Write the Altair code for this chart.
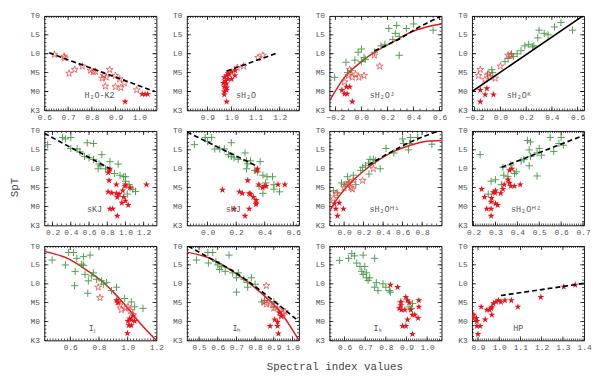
import math
import altair as alt
import pandas as pd

FONT = "Liberation Mono"

# ---------------- spectral type axis ----------------
Y_TICKS = [-5, 0, 5, 10, 15, 20]
Y_NAMES = ["K3", "M0", "M5", "L0", "L5", "T0"]

# ---------------- panel data (x = index value, y = SpT number) ----------------
# 1: H2O-K2
AST1 = [(0.642, 9.8), (0.683, 9.3), (0.686, 8.9), (0.704, 4.8), (0.728, 5.8), (0.76, 6.7),
        (0.794, 5.6), (0.806, 5.2), (0.815, 5.3), (0.843, 3.5), (0.85, 4.3), (0.861, 3.75),
        (0.857, 1.4), (0.875, 5.8), (0.899, 4.2), (0.899, 1.25), (0.917, 3.3), (0.922, 1.0),
        (0.937, 2.25), (0.989, 0.4)]
STAR1 = [(1.012, -0.7), (1.024, -0.7), (1.035, -0.7), (0.94, -2.7)]
DASH1 = [(0.62, 10.25), (1.065, 0.0)]

# 2: sH2O
AST2 = [(1.11, 9.0), (1.13, 9.6), (1.05, 6.7), (1.024, 6.3)]
STAR2 = [(1.015, 5.6), (1.0, 5.25), (0.986, 4.8), (0.979, 4.2), (0.97, 3.75), (0.986, 3.3),
         (1.0, 3.3), (1.014, 4.2), (0.966, 2.25), (0.979, 2.1), (0.97, 1.25), (0.98, 1.0),
         (0.97, 0.0), (0.979, 0.4), (0.97, -0.8), (0.98, -2.7), (0.99, 4.5), (0.975, 2.8)]
DASH2 = [(0.979, 5.4), (1.19, 10.2)]

# 3: sH2O^J
GREEN3 = [(-0.205, 3.75), (-0.118, 7.75), (-0.106, 5.0), (-0.08, 5.5), (-0.05, 8.3), (-0.025, 10.4),
          (0.0, 11.25), (0.0, 7.9), (0.02, 9.0), (0.03, 8.5), (0.1, 10.4), (0.15, 12.1), (0.21, 16.7),
          (0.26, 15.4), (0.27, 17.5), (0.29, 14.6), (0.29, 9.6), (0.345, 16.7), (0.40, 17.9),
          (0.55, 16.25), (0.18, 12.5), (0.24, 13.8)]
AST3 = [(-0.13, 2.5), (-0.1, 4.2), (-0.07, 3.75), (-0.045, 4.6), (0.02, 4.2), (0.1, 9.6),
        (0.14, 6.7), (-0.09, 5.8), (-0.02, 3.75)]
STAR3 = [(-0.15, 0.4), (-0.115, 1.25), (-0.09, 1.25), (-0.13, -0.6), (-0.11, -0.6), (-0.07, -2.7)]
CURVE3 = [(-0.245, -2.5), (-0.13, 3.75), (0.0, 7.9), (0.12, 10.8), (0.25, 13.3), (0.37, 15.6),
          (0.5, 17.1), (0.615, 17.9)]
DASH3 = [(0.1, 10.8), (0.3, 14.1), (0.45, 17.2), (0.615, 20.0)]

# 4: sH2O^K
GREEN4 = [(-0.067, 5.8), (-0.06, 5.0), (-0.1, 4.6), (0.036, 7.9), (0.06, 8.75), (0.087, 10.0),
          (0.1, 9.3), (0.16, 10.8), (0.19, 12.1), (0.22, 12.5), (0.25, 11.8), (0.29, 14.2),
          (0.3, 16.25), (0.34, 15.4), (0.37, 15.0), (0.42, 17.1), (0.47, 18.3), (0.56, 16.25),
          (0.26, 12.1), (0.13, 10.0)]
AST4 = [(-0.156, 5.8), (-0.17, 4.2), (-0.09, 4.6), (-0.08, 3.8), (-0.04, 3.5), (0.0, 6.7),
        (0.06, 9.6), (0.08, 9.6), (-0.12, 3.2)]
STAR4 = [(-0.156, 0.4), (-0.105, 0.8), (-0.118, -0.8), (-0.054, -0.8), (-0.156, -2.7)]
SOLID4 = [(-0.22, 0.0), (0.65, 20.25)]

# 5: sKJ
GREEN5 = [(0.146, 16.4), (0.31, 18.3), (0.34, 17.9), (0.4, 18.3), (0.4, 15.4), (0.47, 15.25),
          (0.58, 16.9), (0.65, 16.7), (0.55, 13.3), (0.6, 12.9), (0.74, 13.75), (0.71, 11.25),
          (0.73, 10.8), (0.7, 10.0), (0.78, 10.0), (0.83, 11.9), (0.92, 11.25), (0.88, 8.75),
          (0.94, 8.3), (0.98, 7.9), (1.0, 7.9), (1.0, 6.7), (1.04, 5.8), (1.05, 5.0), (1.08, 4.6),
          (1.11, 4.0), (1.02, 3.3), (0.5, 14.5), (0.65, 12.5)]
STAR5 = [(0.83, 10.0), (0.82, 9.5), (0.81, 9.0), (0.82, 6.9), (0.9, 5.8), (0.81, 3.9), (0.85, 3.6),
         (0.9, 3.5), (0.93, 3.3), (0.91, 2.5), (0.98, 2.5), (0.96, 1.0), (1.0, 1.5), (1.03, 0.4),
         (1.0, 5.8), (0.995, 5.4), (1.05, 5.0), (0.97, 4.2), (0.83, -0.6), (0.86, -0.6),
         (0.91, -2.5), (1.23, 5.8)]
DASH5 = [(0.11, 19.4), (0.83, 10.0)]

# 6: sHJ
GREEN6 = [(-0.093, 16.4), (-0.017, 18.3), (0.028, 18.3), (0.0, 17.2), (0.05, 15.25), (0.085, 15.25),
          (0.117, 15.25), (0.166, 16.9), (0.146, 13.75), (0.166, 13.3), (0.185, 12.9), (0.214, 12.5),
          (0.262, 14.2), (0.272, 12.1), (0.28, 11.3), (0.3, 12.1), (0.368, 11.9), (0.272, 10.0),
          (0.33, 9.6), (0.349, 9.2), (0.387, 8.3), (0.416, 7.9), (0.454, 7.9), (0.406, 6.25),
          (0.464, 5.8), (0.464, 4.6), (0.387, 3.5), (0.503, 3.9), (0.36, 5.4)]
STAR6 = [(0.349, 10.0), (0.345, 9.5), (0.281, 6.9), (0.358, 5.8), (0.397, 5.4), (0.385, 5.0),
         (0.41, 5.4), (0.493, 5.8), (0.541, 5.8), (0.104, 4.4), (0.223, 3.9), (0.243, 3.5),
         (0.291, 3.5), (0.3, 3.3), (0.32, 2.5), (0.339, 1.7), (0.34, 1.0), (0.338, 0.6),
         (0.185, -0.6), (0.291, -0.6), (0.262, -2.5)]
DASH6 = [(-0.145, 19.75), (0.339, 10.8)]

# 7: sH2O^H1
GREEN7 = [(-0.11, 4.2), (-0.07, 3.6), (-0.027, 6.25), (0.0, 5.8), (0.034, 7.9), (0.095, 8.3),
          (0.12, 5.8), (0.17, 9.6), (0.19, 10.4), (0.22, 10.8), (0.265, 12.5), (0.3, 12.5),
          (0.255, 8.6), (0.32, 12.1), (0.37, 10.0), (0.43, 15.4), (0.51, 14.2), (0.6, 17.9),
          (0.61, 16.7), (0.66, 15.0), (0.68, 18.3), (0.755, 18.3), (0.9, 16.5), (0.67, 16.7),
          (0.25, 11.5), (0.05, 6.5)]
AST7 = [(-0.11, 2.1), (-0.08, 3.5), (0.0, 5.0), (0.034, 5.8), (0.05, 6.2), (0.085, 4.6),
        (0.095, 6.9), (0.07, 5.0), (0.3, 10.0), (0.19, 6.9)]
STAR7 = [(-0.1, 0.8), (-0.05, 1.0), (-0.085, -0.6), (-0.007, -0.6), (-0.068, -2.5)]
CURVE7 = [(-0.15, -1.25), (-0.07, 2.1), (0.034, 5.4), (0.17, 8.75), (0.34, 12.1), (0.51, 14.6),
          (0.68, 16.25), (0.85, 17.3), (1.0, 17.5)]
DASH7 = [(0.25, 11.0), (0.45, 14.0), (0.7, 17.3), (1.0, 20.3)]

# 8: sH2O^H2
GREEN8 = [(0.23, 13.75), (0.28, 6.7), (0.3, 7.1), (0.267, 3.3), (0.327, 5.8), (0.334, 10.4),
          (0.338, 8.3), (0.357, 7.9), (0.387, 8.75), (0.395, 9.2), (0.417, 12.1), (0.454, 10.8),
          (0.446, 17.5), (0.46, 17.1), (0.454, 15.0), (0.46, 13.3), (0.49, 14.2), (0.5, 15.4),
          (0.49, 8.1), (0.51, 13.6), (0.55, 18.3), (0.566, 14.6), (0.59, 16.7), (0.6, 18.3),
          (0.61, 16.25), (0.43, 12.5), (0.37, 11.0)]
STAR8 = [(0.237, 4.6), (0.25, 2.5), (0.26, -0.6), (0.28, -0.6), (0.28, -2.5), (0.282, 2.25),
         (0.28, 1.25), (0.29, 3.75), (0.3, 4.2), (0.298, 3.6), (0.3, 0.8), (0.31, 0.4), (0.324, 3.5),
         (0.334, 4.6), (0.34, 5.8), (0.364, 9.6), (0.375, 10.0), (0.357, 7.1), (0.364, 6.25),
         (0.37, 5.4), (0.386, 5.4), (0.413, 5.8)]
DASH8 = [(0.328, 10.4), (0.705, 18.9)]

# 9: I_J
GREEN9 = [(0.474, 16.3), (0.589, 18.3), (0.623, 18.3), (0.566, 15.0), (0.646, 16.75), (0.692, 14.9),
          (0.68, 15.2), (0.692, 17.2), (0.738, 17.6), (0.634, 13.3), (0.703, 12.5), (0.726, 10.8),
          (0.63, 9.5), (0.722, 7.5), (0.761, 12.9), (0.784, 11.2), (0.818, 10.8), (0.853, 10.3),
          (0.922, 9.1), (0.979, 6.1), (1.025, 5.2), (1.048, 3.9), (1.106, 3.5), (0.749, 12.1),
          (0.83, 9.9), (0.887, 8.2)]
AST9 = [(0.795, 9.1), (0.807, 6.3), (0.933, 5.2), (0.945, 4.4), (0.956, 3.1), (0.984, 3.5),
        (1.002, 3.9), (1.02, 2.9), (1.037, 1.8)]
STAR9 = [(0.922, 5.6), (0.933, 5.0), (1.014, 0.8), (1.025, 0.5), (1.002, 0.1), (1.037, 1.5),
         (1.025, -1.0), (1.007, -1.0), (1.048, 0.1), (0.998, -3.1)]
CURVE9 = [(0.42, 18.6), (0.589, 16.6), (0.726, 13.3), (0.818, 10.8), (0.91, 7.4), (1.002, 3.5),
          (1.094, -0.8), (1.2, -5.0)]

# 10: I_H
GREEN10 = [(0.486, 16.3), (0.547, 18.3), (0.573, 18.3), (0.59, 15.9), (0.6, 15.0), (0.61, 13.8),
           (0.66, 17.6), (0.64, 13.3), (0.68, 12.9), (0.70, 11.6), (0.71, 12.9), (0.74, 11.2),
           (0.76, 10.3), (0.78, 11.6), (0.70, 7.8), (0.76, 9.1), (0.80, 9.9), (0.835, 5.2),
           (0.85, 5.6), (0.90, 5.2), (0.90, 3.9), (0.62, 14.5), (0.55, 15.5)]
AST10 = [(0.86, 9.5), (0.85, 5.2), (0.86, 4.6), (0.91, 4.4), (0.93, 3.1), (0.96, 2.6), (0.94, 1.4),
         (0.9, 3.5), (0.95, 2.2), (0.88, 4.9)]
STAR10 = [(0.88, -1.2), (0.905, 0.5), (0.92, -1.2), (0.92, -0.1), (0.925, -3.2), (0.94, 1.5),
          (0.93, 2.4)]
CURVE10 = [(0.435, 18.4), (0.55, 16.9), (0.68, 13.3), (0.765, 10.3), (0.85, 6.8), (0.94, 2.2),
           (0.99, -1.4), (1.035, -5.0)]
DASH10 = [(0.442, 20.0), (0.55, 17.0), (0.7, 12.8), (0.85, 7.4), (1.035, 0.0)]

# 11: I_K
GREEN11 = [(0.576, 16.2), (0.635, 18.0), (0.648, 17.4), (0.69, 17.6), (0.746, 16.75), (0.659, 15.5),
           (0.675, 14.6), (0.698, 14.6), (0.683, 13.3), (0.69, 12.5), (0.706, 12.9), (0.706, 11.6),
           (0.722, 11.6), (0.714, 10.9), (0.754, 10.3), (0.746, 9.1), (0.762, 8.2), (0.786, 10.0),
           (0.817, 8.2), (0.822, 7.8), (0.8, 9.1), (0.873, 5.2), (0.913, 3.9), (0.924, 3.5),
           (0.929, 4.8), (0.62, 16.75)]
STAR11 = [(0.822, 9.7), (0.857, 9.1), (0.897, 6.5), (0.905, 5.6), (0.913, 5.0), (0.873, 5.2),
          (0.865, 3.5), (0.876, 3.1), (0.892, 3.1), (0.921, 3.1), (0.929, 1.8), (0.94, 1.8),
          (0.956, 0.9), (0.905, 0.5), (0.96, 5.6), (0.96, 3.9), (0.881, -1.2), (0.897, -1.2),
          (0.929, -3.3), (0.873, 4.3)]

# 12: HP
STAR12 = [(0.876, 0.9), (0.88, 1.8), (0.892, 0.9), (0.895, 0.1), (0.895, -1.2), (0.91, -1.2),
          (0.9, -3.3), (0.915, 3.9), (0.934, 0.5), (0.942, 3.1), (0.954, 3.1), (0.965, 3.9),
          (0.965, 1.8), (0.973, 4.8), (0.985, 5.2), (0.996, 5.6), (1.008, 5.2), (1.027, 5.6),
          (1.057, 5.6), (1.088, 3.9), (1.196, 6.5), (1.304, 9.2), (1.358, 9.7), (0.962, 3.5)]
DASH12 = [(1.008, 6.9), (1.397, 10.1)]

PANELS = [
    dict(xdom=[0.6, 1.072], major=[0.6, 0.7, 0.8, 0.9, 1.0], minor=0.01, label="H\u2082O-K2",
         lpos=(0.832, -1.0), ast=AST1, star=STAR1, dash=DASH1),
    dict(xdom=[0.815, 1.28], major=[0.9, 1.0, 1.1, 1.2], minor=0.01, label="sH\u2082O",
         lpos=(1.06, -1.0), ast=AST2, star=STAR2, dash=DASH2),
    dict(xdom=[-0.245, 0.615], major=[-0.2, 0.0, 0.2, 0.4, 0.6], minor=0.05, label="sH\u2082O\u1d36",
         lpos=(0.16, -1.0), green=GREEN3, ast=AST3, star=STAR3, curve=CURVE3, dash=DASH3),
    dict(xdom=[-0.22, 0.65], major=[-0.2, 0.0, 0.2, 0.4, 0.6], minor=0.02, label="sH\u2082O\u1d37",
         lpos=(0.146, -1.0), green=GREEN4, ast=AST4, star=STAR4, solid=SOLID4),
    dict(xdom=[0.11, 1.34], major=[0.2, 0.4, 0.6, 0.8, 1.0, 1.2], minor=0.05, label="sKJ",
         lpos=(0.66, -0.6), green=GREEN5, star=STAR5, dash=DASH5),
    dict(xdom=[-0.145, 0.64], major=[0.0, 0.2, 0.4, 0.6], minor=0.02, label="sHJ",
         lpos=(0.18, -0.6), green=GREEN6, star=STAR6, dash=DASH6),
    dict(xdom=[-0.15, 1.0], major=[0.0, 0.2, 0.4, 0.6, 0.8], minor=0.05, label="sH\u2082O\u1d34\u00b9",
         lpos=(0.415, -0.6), green=GREEN7, ast=AST7, star=STAR7, curve=CURVE7, dash=DASH7),
    dict(xdom=[0.193, 0.705], major=[0.2, 0.3, 0.4, 0.5, 0.6, 0.7], minor=0.01, label="sH\u2082O\u1d34\u00b2",
         lpos=(0.44, -0.6), green=GREEN8, star=STAR8, dash=DASH8),
    dict(xdom=[0.42, 1.2], major=[0.6, 0.8, 1.0, 1.2], minor=0.02, label="I\u2c7c",
         lpos=(0.75, -1.6), green=GREEN9, ast=AST9, star=STAR9, curve=CURVE9),
    dict(xdom=[0.435, 1.035], major=[0.5, 0.6, 0.7, 0.8, 0.9, 1.0], minor=0.01, label="I\u2095",
         lpos=(0.70, -1.6), green=GREEN10, ast=AST10, star=STAR10, curve=CURVE10, dash=DASH10),
    dict(xdom=[0.527, 1.07], major=[0.6, 0.7, 0.8, 0.9, 1.0], minor=0.01, label="I\u2096",
         lpos=(0.76, -1.6), green=GREEN11, star=STAR11),
    dict(xdom=[0.872, 1.4], major=[0.9, 1.0, 1.1, 1.2, 1.3, 1.4], minor=0.01, label="HP",
         lpos=(1.09, -1.6), star=STAR12, dash=DASH12),
]

PANEL_W, PANEL_H = 114, 96
MAJ, MIN = 4, 2
PLUS = "M-1,0L1,0M0,-1L0,1"
STAR = ("M0,-1L0.225,-0.309L0.951,-0.309L0.363,0.118L0.588,0.809L0,0.382"
        "L-0.588,0.809L-0.363,0.118L-0.951,-0.309L-0.225,-0.309Z")
LABEL_EXPR = " : ".join(f"datum.value == {v} ? '{n}'" for v, n in zip(Y_TICKS, Y_NAMES)) + " : ''"
YLO, YHI = -5, 20


def steps(lo, hi, step):
    k0 = math.ceil(lo / step - 1e-9)
    k1 = math.floor(hi / step + 1e-9)
    return [round(k * step, 4) for k in range(k0, k1 + 1)]


def frame(pts):
    return pd.DataFrame(pts, columns=["x", "y"])


def make_panel(i, p):
    x0, x1 = p["xdom"]
    xs = alt.Scale(domain=[x0, x1], nice=False, zero=False)
    ys = alt.Scale(domain=[YLO, YHI], nice=False, zero=False)
    majors = [v for v in p["major"] if x0 - 1e-9 <= v <= x1 + 1e-9]
    minors = steps(x0, x1, p["minor"])
    yminor = steps(YLO, YHI, 1)

    x_axis = dict(orient="bottom", values=majors, format=".1f", ticks=True, tickSize=0.5,
                  tickOpacity=0, domain=False, grid=False, labelFlush=False,
                  labelFont=FONT, labelFontSize=8, labelColor="#555", labelPadding=2.5,
                  labelOverlap=False, title=None)
    y_axis = dict(orient="left", values=Y_TICKS, labelExpr=LABEL_EXPR, ticks=True, tickSize=0.5,
                  tickOpacity=0, domain=False, grid=False, labelFlush=False,
                  labelFont=FONT, labelFontSize=8, labelColor="#555", labelPadding=4.5,
                  labelOverlap=False, title=None)
    if i == 4:
        y_axis.update(title="SpT", titleFont=FONT, titleFontSize=11, titleFontWeight="normal",
                      titleColor="#444", titleX=-30, titleY=57, titleAngle=270,
                      titleAlign="center", titleBaseline="middle")
    if i == 9:
        x_axis.update(title="Spectral index values", titleFont=FONT, titleFontSize=11,
                      titleFontWeight="normal", titleColor="#444", titleX=150, titleY=26.5,
                      titleAlign="center", titleBaseline="middle")

    def enc(ch):
        return ch.encode(x=alt.X("x:Q", scale=xs, axis=None), y=alt.Y("y:Q", scale=ys, axis=None))

    corners = frame([(x0, YLO), (x1, YHI)])
    # frame ticks (inward; the outer half is clipped by the plot area)
    xt_maj = frame([(v, s) for v in majors for s in (YLO, YHI)])
    xt_min = frame([(v, s) for v in minors for s in (YLO, YHI)])
    yt_maj = frame([(s, v) for v in Y_TICKS for s in (x0, x1)])
    yt_min = frame([(s, v) for v in yminor for s in (x0, x1)])

    layers = [
        alt.Chart(corners).mark_point(opacity=0).encode(
            x=alt.X("x:Q", scale=xs, axis=alt.Axis(**x_axis)),
            y=alt.Y("y:Q", scale=ys, axis=alt.Axis(**y_axis))),
        enc(alt.Chart(xt_maj).mark_tick(orient="vertical", size=2 * MAJ, thickness=0.8, color="#111",
                                        opacity=1, clip=True)),
        enc(alt.Chart(xt_min).mark_tick(orient="vertical", size=2 * MIN, thickness=0.7, color="#111",
                                        opacity=1, clip=True)),
        enc(alt.Chart(yt_maj).mark_tick(orient="horizontal", size=2 * MAJ, thickness=0.8, color="#111",
                                        opacity=1, clip=True)),
        enc(alt.Chart(yt_min).mark_tick(orient="horizontal", size=2 * MIN, thickness=0.7, color="#111",
                                        opacity=1, clip=True)),
    ]

    if "curve" in p:
        layers.append(enc(alt.Chart(frame(p["curve"])).mark_line(
            color="#e3191c", strokeWidth=1.5, interpolate="monotone", clip=True)))
    if "green" in p:
        layers.append(enc(alt.Chart(frame(p["green"])).mark_point(
            shape=PLUS, filled=False, size=55, strokeWidth=1, color="#3d963d", opacity=0.9, clip=True)))
    if "ast" in p:
        layers.append(enc(alt.Chart(frame(p["ast"])).mark_point(
            shape=STAR, filled=False, size=55, strokeWidth=0.8, color="#ee3a3a", opacity=0.9, clip=True)))
    if "star" in p:
        layers.append(enc(alt.Chart(frame(p["star"])).mark_point(
            shape=STAR, filled=True, size=55, strokeWidth=0, color="#e8141c", opacity=1, clip=True)))
    if "dash" in p:
        layers.append(enc(alt.Chart(frame(p["dash"])).mark_line(
            color="#000", strokeWidth=1.7, strokeDash=[5, 3], interpolate="monotone", clip=True)))
    if "solid" in p:
        layers.append(enc(alt.Chart(frame(p["solid"])).mark_line(
            color="#000", strokeWidth=1.6, clip=True)))
    lab = pd.DataFrame({"x": [p["lpos"][0]], "y": [p["lpos"][1]], "t": [p["label"]]})
    layers.append(alt.Chart(lab).mark_text(font=FONT, fontSize=8.5, color="#555").encode(
        x=alt.X("x:Q", scale=xs, axis=None), y=alt.Y("y:Q", scale=ys, axis=None), text="t:N"))

    # independent axes: the null axes of the data layers are then not merged into (and do not
    # disable) the labelled axes of the first layer; the scales stay shared
    return alt.layer(*layers).resolve_axis(x="independent", y="independent").properties(
        width=PANEL_W, height=PANEL_H)


panels = [make_panel(i, p) for i, p in enumerate(PANELS)]

chart = alt.concat(*panels, columns=4, spacing={"row": 21, "column": 31}, bounds="flush").properties(
    padding={"left": 0, "top": 0, "right": 0, "bottom": 0}, background="white"
).configure_view(stroke="#000", strokeWidth=0.9)

chart.save("out.html", embed_options={"renderer": "svg", "actions": False})
